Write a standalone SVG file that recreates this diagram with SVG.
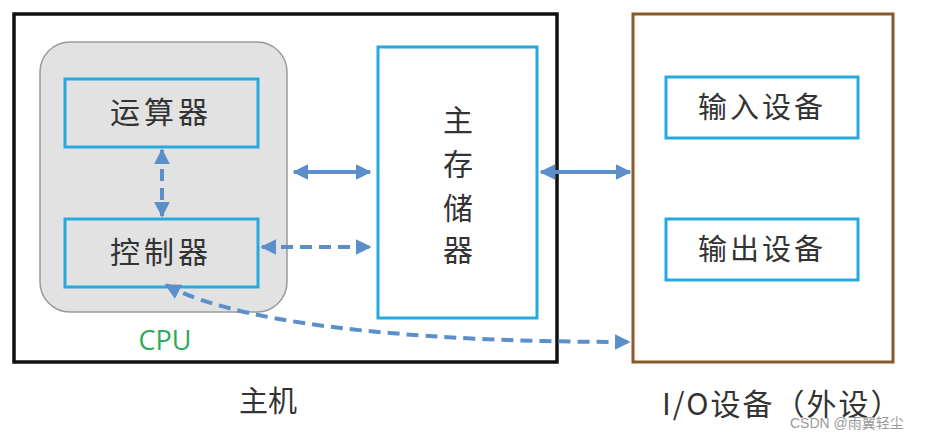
<svg xmlns="http://www.w3.org/2000/svg" width="940" height="437" viewBox="0 0 940 437">
<defs>
<style>
.t{font-family:"Noto Sans CJK SC","Noto Sans",sans-serif;fill:#333;}
.b{fill:none;stroke:#26a9df;stroke-width:3;}
.c{fill:none;stroke:#5b8fc9;stroke-width:4;}
.d{stroke-dasharray:12 7;}
</style>
<marker id="ah" viewBox="0 0 10 10" refX="9" refY="5" markerWidth="4" markerHeight="4" orient="auto-start-reverse" markerUnits="strokeWidth">
<path d="M0,0 L10,5 L0,10 z" fill="#5b8fc9"/>
</marker>
</defs>
<rect width="940" height="437" fill="#fff"/>
<g id="host">
<rect x="14" y="14" width="543" height="348" fill="#fff" stroke="#111" stroke-width="3.5"/>
<text class="t" x="268" y="412" font-size="29" text-anchor="middle">主机</text>
</g>
<g id="cpu">
<rect x="40" y="42" width="247" height="270" rx="30" fill="#e2e2e2" stroke="#9a9a9a" stroke-width="1.5"/>
<text x="165" y="350" font-family="'Open Sans','Noto Sans',sans-serif" font-size="27" fill="#2eaa5a" text-anchor="middle">CPU</text>
</g>
<g id="alu">
<rect class="b" x="65" y="79" width="193" height="68"/>
<text class="t" x="161" y="123" font-size="30" text-anchor="middle" letter-spacing="4">运算器</text>
</g>
<g id="cu">
<rect class="b" x="65" y="219" width="193" height="68"/>
<text class="t" x="161" y="263" font-size="30" text-anchor="middle" letter-spacing="4">控制器</text>
</g>
<g id="mem">
<rect class="b" x="378" y="47" width="159" height="271" fill="#fff"/>
<text class="t" x="458" y="131" font-size="30" text-anchor="middle">主</text>
<text class="t" x="458" y="175" font-size="30" text-anchor="middle">存</text>
<text class="t" x="458" y="219" font-size="30" text-anchor="middle">储</text>
<text class="t" x="458" y="261" font-size="30" text-anchor="middle">器</text>
</g>
<g id="io">
<rect x="633" y="14" width="260" height="348" fill="#fff" stroke="#8b5a2b" stroke-width="3"/>
<text class="t" x="662" y="415" font-size="30" letter-spacing="2">I/O设备（外设）</text>
</g>
<g id="input">
<rect class="b" x="666" y="77" width="192" height="61"/>
<text class="t" x="762" y="118" font-size="29" text-anchor="middle" letter-spacing="3">输入设备</text>
</g>
<g id="output">
<rect class="b" x="666" y="219" width="192" height="61"/>
<text class="t" x="762" y="260" font-size="29" text-anchor="middle" letter-spacing="3">输出设备</text>
</g>
<g id="connectors">
<line class="c d" x1="162" y1="150" x2="162" y2="216" marker-start="url(#ah)" marker-end="url(#ah)"/>
<line class="c" x1="294" y1="172" x2="370" y2="172" marker-start="url(#ah)" marker-end="url(#ah)"/>
<line class="c d" x1="262" y1="247" x2="370" y2="247" marker-start="url(#ah)" marker-end="url(#ah)"/>
<line class="c" x1="541" y1="172" x2="630" y2="172" marker-start="url(#ah)" marker-end="url(#ah)"/>
<path class="c d" d="M166,285 C250,330 450,342 629,342" marker-start="url(#ah)" marker-end="url(#ah)"/>
</g>
<text x="790" y="428" font-family="'Liberation Sans',sans-serif" font-size="14" fill="#999">CSDN @<tspan font-family="'Noto Sans CJK SC',sans-serif">雨翼轻尘</tspan></text>
</svg>
